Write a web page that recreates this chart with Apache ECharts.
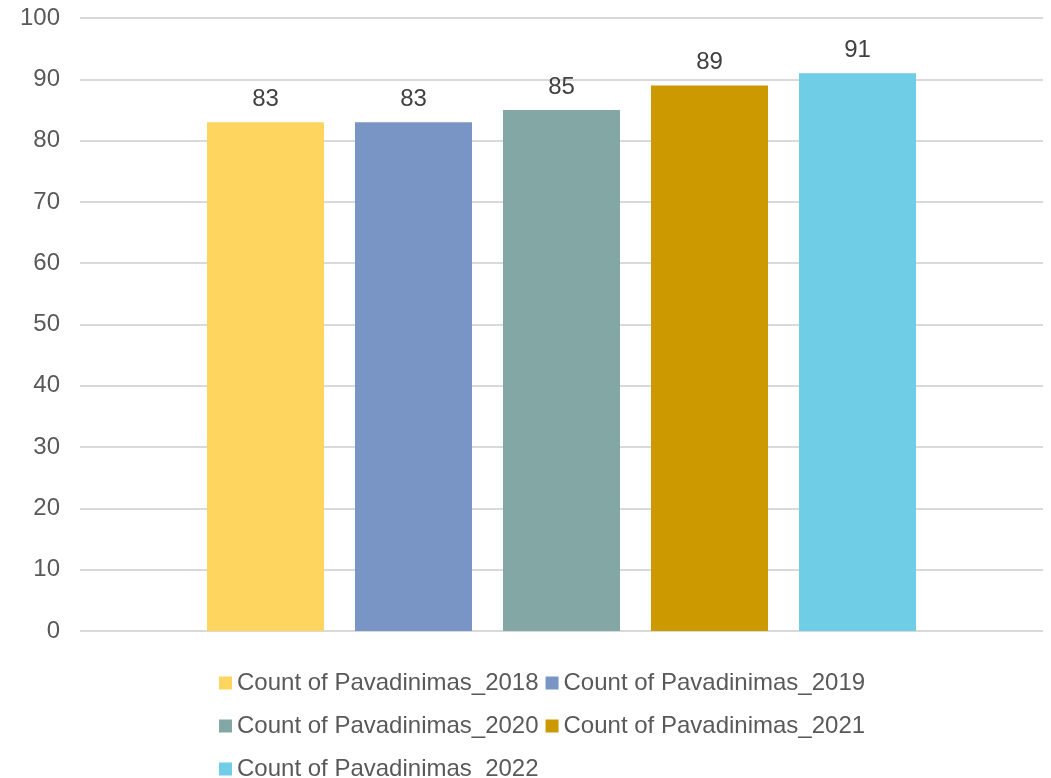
<!DOCTYPE html>
<html>
<head>
<meta charset="utf-8">
<script src="https://cdn.jsdelivr.net/npm/echarts@6/dist/echarts.min.js"></script>
<style>html,body{margin:0;padding:0;background:#fff;}#chart{width:1051px;height:778px;}</style>
</head>
<body>
<div id="chart"></div>
<script>
const categories = [''];
const seriesNames = ['Count of Pavadinimas_2018','Count of Pavadinimas_2019','Count of Pavadinimas_2020','Count of Pavadinimas_2021','Count of Pavadinimas_2022'];
const seriesValues = [83, 83, 85, 89, 91];
const seriesColors = ['#FDD55F','#7895C6','#82A7A4','#CC9900','#6FCDE5'];
const yTicks = {min: 0, max: 100, interval: 10};

const FONT = '"Liberation Sans", Arial, sans-serif';
const chart = echarts.init(document.getElementById('chart'), null, {renderer: 'canvas'});
chart.setOption({
  animation: false,
  grid: {left: 80, right: 8, top: 18, bottom: 147, containLabel: false},
  xAxis: {
    type: 'category', data: categories,
    axisLine: {show: false}, axisTick: {show: false}, axisLabel: {show: false}
  },
  yAxis: {
    type: 'value', min: yTicks.min, max: yTicks.max, interval: yTicks.interval,
    axisLine: {show: false}, axisTick: {show: false},
    axisLabel: {color: '#595959', fontSize: 24, fontFamily: FONT, margin: 20},
    splitLine: {lineStyle: {color: '#D9D9D9', width: 2}}
  },
  legend: {
    left: 219, top: 665, width: 700, padding: 0,
    itemWidth: 13, itemHeight: 13, itemGap: 7,
    icon: 'rect',
    textStyle: {color: '#595959', fontSize: 24, fontFamily: FONT, lineHeight: 36},
    data: seriesNames
  },
  series: seriesNames.map((name, i) => ({
    name: name,
    type: 'bar',
    data: [seriesValues[i]],
    barWidth: 117,
    barGap: '26.5%',
    itemStyle: {color: seriesColors[i]},
    label: {show: true, position: 'top', distance: 11, color: '#404040', fontSize: 24, fontFamily: FONT}
  }))
});
</script>
</body>
</html>
